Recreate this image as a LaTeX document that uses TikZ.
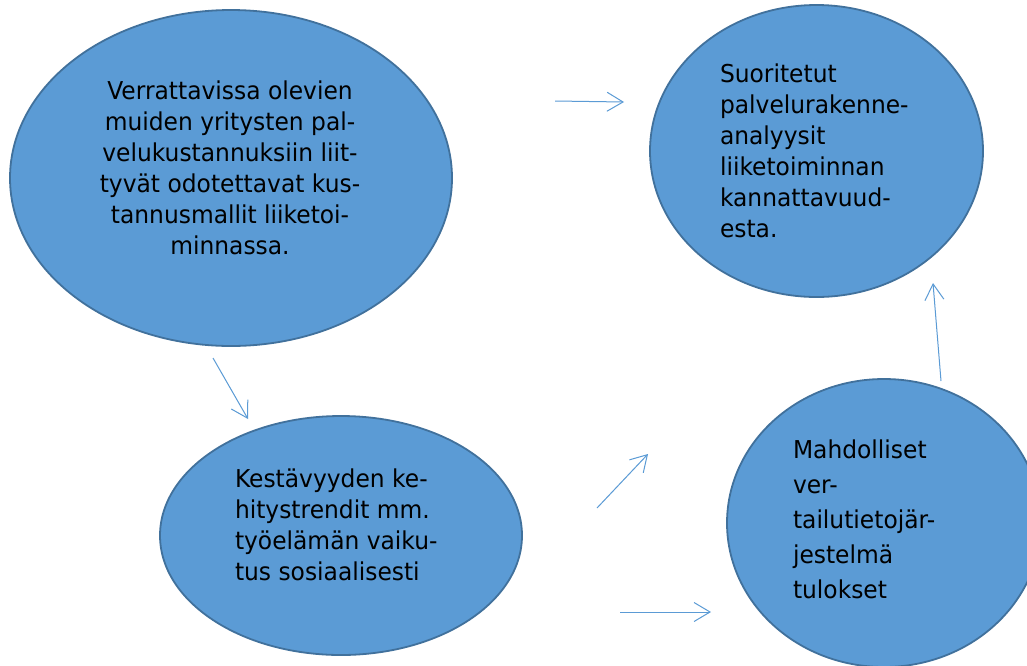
\documentclass[tikz,border=0pt]{standalone}
\usepackage{fontspec}
\setmainfont{DejaVu Sans}[FakeStretch=0.95]
\usetikzlibrary{shapes.geometric,arrows.meta}
\definecolor{ellfill}{HTML}{5B9BD5}
\definecolor{elldraw}{HTML}{41719C}
\definecolor{arrowblue}{HTML}{5B9BD5}
\begin{document}
\begin{tikzpicture}[x=1pt,y=-1pt,
  bubble/.style={ellipse, draw=elldraw, fill=ellfill, line width=1.8pt, inner sep=0pt, outer sep=0pt},
  txt/.style={inner sep=0pt, outer sep=0pt, font=\fontsize{24.6}{31}\selectfont, text=black},
  txtwide/.style={inner sep=0pt, outer sep=0pt, font=\fontsize{24.6}{35}\selectfont, text=black},
  conn/.style={draw=arrowblue, line width=1pt, -{Straight Barb[length=16pt,width=19pt]}}
]
\fill[white] (0,0) rectangle (1027,665);
\useasboundingbox (0,0) rectangle (1027,665);
\clip (0,0) rectangle (1027,665);

\node[bubble, minimum width=442pt, minimum height=336pt] (e1) at (231,178) {};
\node[bubble, minimum width=333pt, minimum height=292pt] (e2) at (816.5,151) {};
\node[bubble, minimum width=362pt, minimum height=239pt] (e3) at (341,535.5) {};
\node[bubble, minimum width=314pt, minimum height=288pt] (e4) at (884,523) {};

\node[txt, align=center, anchor=north] (t1) at (230,77.3)
  {\strut Verrattavissa olevien\\\strut muiden yritysten pal-\\\strut velukustannuksiin liit-\\\strut tyvät odotettavat kus-\\\strut tannusmallit liiketoi-\\\strut minnassa.};
\node[txt, align=left, anchor=north west] (t2) at (720,60.3)
  {\strut Suoritetut\\\strut palvelurakenne-\\\strut analyysit\\\strut liiketoiminnan\\\strut kannattavuud-\\\strut esta.};
\node[txt, align=left, anchor=north west] (t3) at (235,465.3)
  {\strut Kestävyyden ke-\\\strut hitystrendit mm.\\\strut työelämän vaiku-\\\strut tus sosiaalisesti};
\node[txtwide, align=left, anchor=north west] (t4) at (793,433.5)
  {\strut Mahdolliset\\\strut ver-\\\strut tailutietojär-\\\strut jestelmä\\\strut tulokset};

\coordinate (a1s) at (555,101);
\coordinate (a1e) at (624,102);
\coordinate (a2s) at (941,381);
\coordinate (a2e) at (933,283);
\coordinate (a3s) at (213,358);
\coordinate (a3e) at (248,419);
\coordinate (a4s) at (597,508);
\coordinate (a4e) at (648,454);
\coordinate (a5s) at (620,612);
\coordinate (a5e) at (711,612);

\draw[conn] (a1s) -- (a1e);
\draw[conn] (a2s) -- (a2e);
\draw[conn] (a3s) -- (a3e);
\draw[conn] (a4s) -- (a4e);
\draw[conn] (a5s) -- (a5e);
\end{tikzpicture}
\end{document}
